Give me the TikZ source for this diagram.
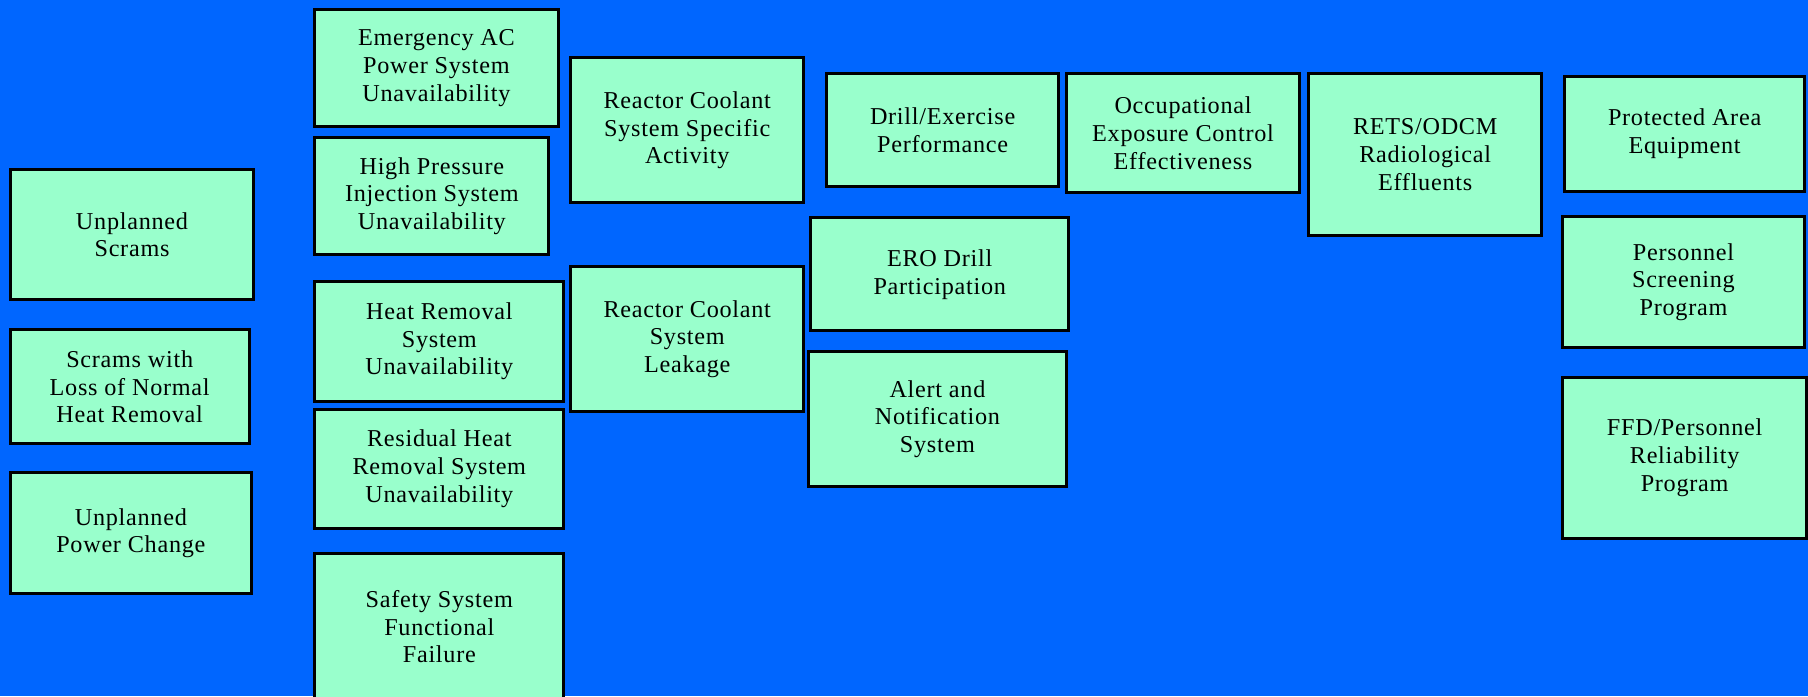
\documentclass[tikz,border=0pt]{standalone}
\usepackage{fontspec}
\setmainfont{Liberation Serif}[LetterSpace=3]
\definecolor{bgblue}{RGB}{0,102,255}
\definecolor{boxgreen}{RGB}{153,255,204}
\begin{document}
\begin{tikzpicture}[x=1pt, y=-1pt, pi box/.style={rectangle,draw,fill=boxgreen,line width=2.6pt,align=center,inner sep=0pt}]%units are px of the slide
\fill[bgblue] (0,0) rectangle (1568,604);
\useasboundingbox (0,0) rectangle (1568,604);
\begin{scope}[every node/.style={font=\fontsize{21}{24}\selectfont}]
% initiating events
\node[pi box, minimum width=211pt, minimum height=113pt] (us) at (114.5,203.5) {Unplanned\\Scrams};
\node[pi box, minimum width=207pt, minimum height=99pt] (swl) at (112.5,335.5) {Scrams with\\Loss of Normal\\Heat Removal};
\node[pi box, minimum width=209pt, minimum height=105pt] (upc) at (113.5,462.5) {Unplanned\\Power Change};
% mitigating systems
\node[pi box, minimum width=211pt, minimum height=102pt] (eac) at (378.5,59) {Emergency AC\\Power System\\Unavailability};
\node[pi box, minimum width=203pt, minimum height=102pt] (hpi) at (374.5,170) {High Pressure\\Injection System\\Unavailability};
\node[pi box, minimum width=216pt, minimum height=104pt] (hrs) at (381,296) {Heat Removal\\System\\Unavailability};
\node[pi box, minimum width=216pt, minimum height=103pt] (rhr) at (381,406.5) {Residual Heat\\Removal System\\Unavailability};
\node[pi box, minimum width=216pt, minimum height=127pt] (ssf) at (381,543.5) {Safety System\\Functional\\Failure};
% barrier integrity
\node[pi box, minimum width=202pt, minimum height=126pt] (rcsa) at (596,113) {Reactor Coolant\\System Specific\\Activity};
\node[pi box, minimum width=202pt, minimum height=126pt] (rcsl) at (596,294) {Reactor Coolant\\System\\Leakage};
% emergency preparedness
\node[pi box, minimum width=201pt, minimum height=98pt] (dep) at (817.5,113) {Drill/Exercise\\Performance};
\node[pi box, minimum width=224pt, minimum height=98pt] (ero) at (815,238) {ERO Drill\\Participation};
\node[pi box, minimum width=224pt, minimum height=117pt] (ans) at (813,363.5) {Alert and\\Notification\\System};
% radiation safety
\node[pi box, minimum width=202pt, minimum height=103pt] (oec) at (1026,115.5) {Occupational\\Exposure Control\\Effectiveness};
\node[pi box, minimum width=202pt, minimum height=140pt] (rets) at (1236,134) {RETS/ODCM\\Radiological\\Effluents};
% security
\node[pi box, minimum width=208pt, minimum height=100pt] (pae) at (1461,116) {Protected Area\\Equipment};
\node[pi box, minimum width=210pt, minimum height=113pt] (psp) at (1460,244.5) {Personnel\\Screening\\Program};
\node[pi box, minimum width=212pt, minimum height=140pt] (ffd) at (1461,397) {FFD/Personnel\\Reliability\\Program};
\end{scope}
\end{tikzpicture}
\end{document}
